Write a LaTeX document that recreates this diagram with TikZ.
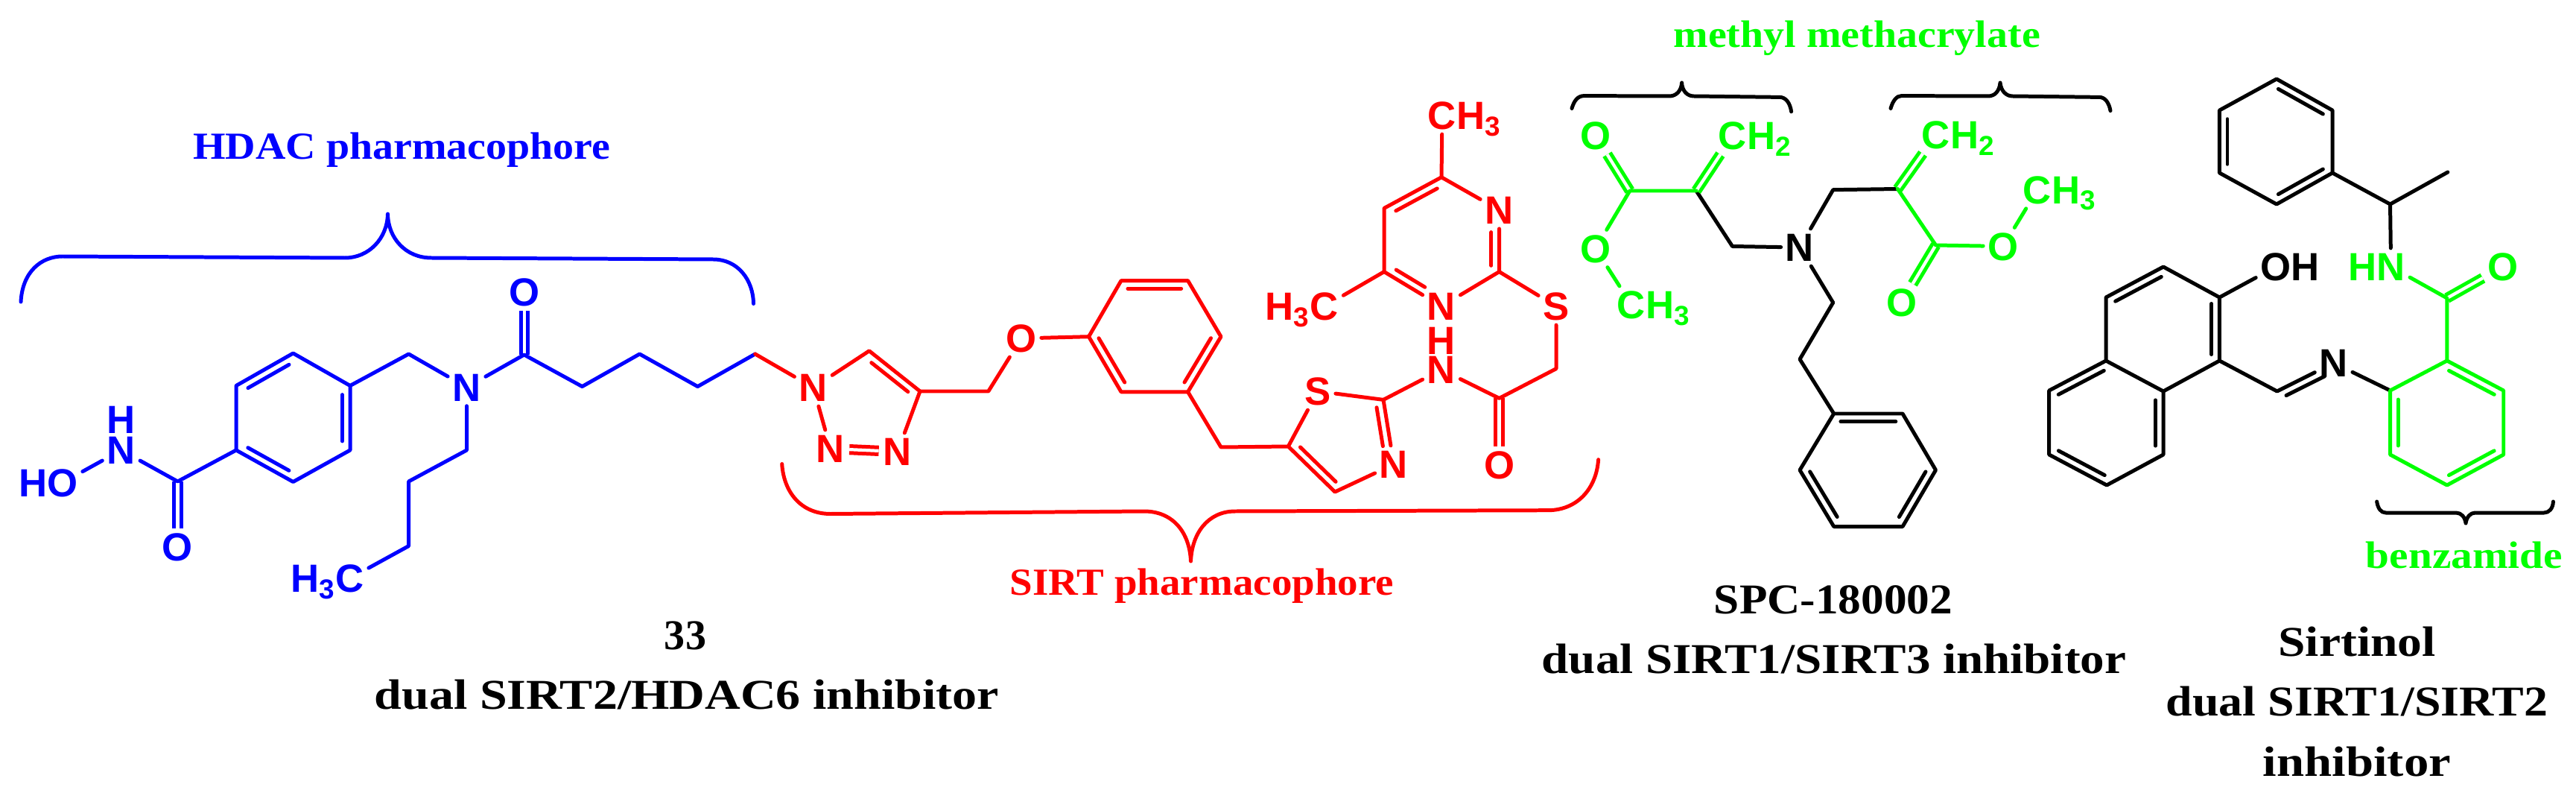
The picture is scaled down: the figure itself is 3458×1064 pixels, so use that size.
\documentclass[tikz,border=0pt]{standalone}
\usepackage{fontspec}
\setmainfont{Liberation Serif}
\newfontfamily\atomfont{Liberation Sans}
\usetikzlibrary{calc}

% second line of a double bond, on the left of the first node -> second node
\newcommand{\ringbond}[4]{\draw[bond] ($(#1)!#3!(#2)!3pt!90:(#2)$) -- ($(#2)!#4!(#1)!3pt!-90:(#1)$);}
% text forced to a width given in cm
\newcommand{\fitw}[2]{\resizebox{#1cm}{\height}{#2}}

\begin{document}
\begin{tikzpicture}[x=0.01cm, y=-0.01cm]
    % --- Style Definitions ---
    \tikzset{
        % Skeleton lines
        bond/.style={line width=1.42pt, line join=round, line cap=round},
        double bond/.style={bond, line cap=butt, double, double distance=1.2pt},
        brace line/.style={line width=1.42pt, line join=round, line cap=round},
        % Atom letters
        atom/.style={
            font=\atomfont\bfseries\fontsize{15}{17}\selectfont,
            text height=10.7pt,
            text depth=0pt,
            inner sep=1.6pt
        },
        % Text styling
        part text/.style={font=\bfseries\fontsize{14.6}{16}\selectfont, inner sep=0pt},
        name text/.style={font=\bfseries\fontsize{16.2}{18}\selectfont, inner sep=0pt}
    }
    \useasboundingbox (0,0) rectangle (3458,1064);

    % ==========================================
    % COMPOUND 33: HDAC part (blue)
    % ==========================================
    \begin{scope}[color=blue]
        % Label and brace
        \node[part text] (lbl_hdac) at (539.5,201.5) {\fitw{5.6}{HDAC pharmacophore}};
        \draw[brace line] (28,405) .. controls (30,365) and (55,344) .. (84,344) -- (463,346)
            .. controls (495,346) and (520,320) .. (520.5,287)
            .. controls (521,320) and (545,346) .. (579,346) -- (957.5,348)
            .. controls (990,348) and (1011,375) .. (1011.5,407.5);

        % 1. Benzene ring
        \coordinate (ring_a1) at (393.5,474);
        \coordinate (ring_a2) at (470,517.5);
        \coordinate (ring_a3) at (470,604);
        \coordinate (ring_a4) at (393.5,646.5);
        \coordinate (ring_a5) at (317,604);
        \coordinate (ring_a6) at (317,517.5);
        \draw[bond] (ring_a1) -- (ring_a2) -- (ring_a3) -- (ring_a4) -- (ring_a5) -- (ring_a6) -- cycle;
        \ringbond{ring_a1}{ring_a6}{.14}{.14}
        \ringbond{ring_a5}{ring_a4}{.14}{.14}
        \ringbond{ring_a3}{ring_a2}{.14}{.14}

        % 2. Hydroxamic acid
        \coordinate (hyd_c) at (238.5,646);
        \node[atom] (hyd_o) at (238.5,734) {O};
        \node[atom] (hyd_n) at (162.7,604) {\rlap{\raisebox{11.67pt}{H}}N};
        \node[atom] (hyd_oh) at (84,647.5) {\llap{H}O};
        \draw[double bond] (hyd_c) -- (hyd_o);
        \draw[bond] (ring_a5) -- (hyd_c) -- (hyd_n) -- (hyd_oh);

        % 3. Amide nitrogen and butyl
        \coordinate (benzyl) at (548.6,475);
        \node[atom] (amide_n) at (626.5,519.6) {N};
        \coordinate (butyl_1) at (626.5,604);
        \coordinate (butyl_2) at (548.6,646);
        \coordinate (butyl_3) at (548.6,732.6);
        \node[atom] (butyl_4) at (469.5,776) {\llap{H\textsubscript{3}}C};
        \draw[bond] (ring_a2) -- (benzyl) -- (amide_n) -- (butyl_1) -- (butyl_2) -- (butyl_3) -- (butyl_4);

        % 4. Carbonyl and chain
        \coordinate (acyl_c) at (703.6,476);
        \node[atom] (acyl_o) at (703.6,392) {O};
        \coordinate (chain_1) at (781.5,518.6);
        \coordinate (chain_2) at (858.6,475);
        \coordinate (chain_3) at (936.5,518.6);
        \coordinate (chain_4) at (1013.7,475);
        \draw[double bond] (acyl_c) -- (acyl_o);
        \draw[bond] (amide_n) -- (acyl_c) -- (chain_1) -- (chain_2) -- (chain_3) -- (chain_4);
    \end{scope}

    % ==========================================
    % COMPOUND 33: SIRT part (red)
    % ==========================================
    \begin{scope}[color=red]
        % Label and brace
        \node[part text] (lbl_sirt) at (1613.5,786.6) {\fitw{5.15}{SIRT pharmacophore}};
        \draw[brace line] (1049.7,622.5) .. controls (1052,660) and (1075,689.5) .. (1114.8,689.5) -- (1535.7,686)
            .. controls (1575,686) and (1597,715) .. (1598.5,753)
            .. controls (1600,715) and (1622,686) .. (1658,686) -- (2079,684.7)
            .. controls (2118,684) and (2143,655) .. (2145.6,616.7);

        % 1. Triazole
        \node[atom] (tri_n1) at (1091.8,520) {N};
        \coordinate (tri_c5) at (1166.8,470.8);
        \coordinate (tri_c4) at (1235,525);
        \node[atom] (tri_n3) at (1205,606) {N};
        \node[atom] (tri_n2) at (1114.8,602) {N};
        \draw[double bond] (tri_n2) -- (tri_n3);
        \draw[bond] (chain_4) -- (tri_n1) -- (tri_c5) -- (tri_c4) -- (tri_n3);
        \draw[bond] (tri_n1) -- (tri_n2);
        \ringbond{tri_c4}{tri_c5}{.14}{.14}

        % 2. Ether link and benzene ring
        \coordinate (ether_c) at (1326.8,525);
        \node[atom] (ether_o) at (1371,454) {O};
        \coordinate (ring_b1) at (1461.5,451.7);
        \coordinate (ring_b2) at (1505,376.6);
        \coordinate (ring_b3) at (1594.6,376.6);
        \coordinate (ring_b4) at (1639,451.7);
        \coordinate (ring_b5) at (1594.6,525.8);
        \coordinate (ring_b6) at (1505,525.8);
        \draw[bond] (tri_c4) -- (ether_c) -- (ether_o) -- (ring_b1);
        \draw[bond] (ring_b1) -- (ring_b2) -- (ring_b3) -- (ring_b4) -- (ring_b5) -- (ring_b6) -- cycle;
        \ringbond{ring_b3}{ring_b2}{.1}{.1}
        \ringbond{ring_b5}{ring_b4}{.1}{.1}
        \ringbond{ring_b1}{ring_b6}{.1}{.1}

        % 3. Thiazole
        \coordinate (bridge) at (1639,600);
        \coordinate (thz_c5) at (1729.3,599);
        \node[atom] (thz_s) at (1769,525) {S};
        \coordinate (thz_c2) at (1857,536.4);
        \node[atom] (thz_n) at (1871,623) {N};
        \coordinate (thz_c4) at (1792,660);
        \draw[bond] (ring_b5) -- (bridge) -- (thz_c5) -- (thz_s) -- (thz_c2) -- (thz_n) -- (thz_c4) -- (thz_c5);
        \ringbond{thz_c5}{thz_c4}{.14}{.1}
        \ringbond{thz_n}{thz_c2}{.3}{.1}

        % 4. Thioacetamide
        \node[atom] (link_n) at (1935,496) {\rlap{\raisebox{11.24pt}{H}}N};
        \coordinate (link_c) at (2012.5,534.4);
        \node[atom] (link_o) at (2012.5,624) {O};
        \coordinate (link_ch2) at (2089,494.7);
        \node[atom] (link_s) at (2089,411) {S};
        \draw[double bond] (link_c) -- (link_o);
        \draw[bond] (thz_c2) -- (link_n) -- (link_c) -- (link_ch2) -- (link_s);

        % 5. Pyrimidine
        \coordinate (pyr_c2) at (2012.5,364.6);
        \node[atom] (pyr_n1) at (2012.5,281.8) {N};
        \coordinate (pyr_c4) at (1935,237.8);
        \coordinate (pyr_c5) at (1858,279.4);
        \coordinate (pyr_c6) at (1858,364.6);
        \node[atom] (pyr_n3) at (1935,411) {N};
        \node[atom] (pyr_me1) at (1936,155) {C\rlap{H\textsubscript{3}}};
        \node[atom] (pyr_me2) at (1778,411) {\llap{H\textsubscript{3}}C};
        \draw[bond] (link_s) -- (pyr_c2) -- (pyr_n1) -- (pyr_c4) -- (pyr_c5) -- (pyr_c6) -- (pyr_n3) -- (pyr_c2);
        \draw[bond] (pyr_c4) -- (pyr_me1);
        \draw[bond] (pyr_c6) -- (pyr_me2);
        \ringbond{pyr_c4}{pyr_c5}{.14}{.14}
        \ringbond{pyr_c6}{pyr_n3}{.14}{.36}
        \ringbond{pyr_c2}{pyr_n1}{.1}{.36}
    \end{scope}

    % Names
    \node[name text] (name_33) at (920,853) {\fitw{.56}{33}};
    \node[name text] (name_33_b) at (922,932) {\fitw{8.38}{dual SIRT2/HDAC6 inhibitor}};

    % ==========================================
    % SPC-180002
    % ==========================================
    \node[part text, green] (lbl_mma) at (2492.6,51.5) {\fitw{4.92}{methyl methacrylate}};

    % Braces
    \draw[brace line] (2110,145.5) .. controls (2113,135) and (2118,128.6) .. (2126.5,128.6) -- (2241,129)
        .. controls (2250,129) and (2257,122) .. (2257.6,111)
        .. controls (2258,122) and (2265,129) .. (2273.5,129) -- (2389,130.4)
        .. controls (2397,130.4) and (2403,138) .. (2404.6,149.8);
    \draw[brace line] (2538,145.5) .. controls (2541,135) and (2546,128.6) .. (2552.5,128.6) -- (2669,129)
        .. controls (2678,129) and (2684,122) .. (2685,111)
        .. controls (2686,122) and (2693,129) .. (2701.5,129) -- (2818,130.4)
        .. controls (2826,130.4) and (2831,138) .. (2833,148.6);

    % 1. Black part
    \coordinate (left_c) at (2277,256);
    \coordinate (left_ch2) at (2325.5,330.5);
    \node[atom] (spc_n) at (2416,332) {N};
    \coordinate (right_ch2) at (2460.7,254.7);
    \coordinate (right_c) at (2547.4,253.5);
    \coordinate (ethyl_1) at (2460.7,406);
    \coordinate (ethyl_2) at (2416,482);
    \coordinate (ring_s1) at (2461.7,555);
    \coordinate (ring_s2) at (2554,555);
    \coordinate (ring_s3) at (2598.5,630.7);
    \coordinate (ring_s4) at (2554,706.5);
    \coordinate (ring_s5) at (2461.7,706.5);
    \coordinate (ring_s6) at (2416,630.7);
    \draw[bond] (left_c) -- (left_ch2) -- (spc_n) -- (right_ch2) -- (right_c);
    \draw[bond] (spc_n) -- (ethyl_1) -- (ethyl_2) -- (ring_s1);
    \draw[bond] (ring_s1) -- (ring_s2) -- (ring_s3) -- (ring_s4) -- (ring_s5) -- (ring_s6) -- cycle;
    \ringbond{ring_s2}{ring_s1}{.1}{.1}
    \ringbond{ring_s4}{ring_s3}{.1}{.1}
    \ringbond{ring_s6}{ring_s5}{.1}{.1}

    % 2. Green parts
    \begin{scope}[color=green]
        \coordinate (left_ester) at (2187.8,256);
        \node[atom] (left_o1) at (2141.8,182) {O};
        \node[atom] (left_o2) at (2141.8,333.5) {O};
        \node[atom] (left_me) at (2190,409) {C\rlap{H\textsubscript{3}}};
        \node[atom] (left_vinyl) at (2326,182) {C\rlap{H\textsubscript{2}}};
        \draw[double bond] (left_ester) -- (left_o1);
        \draw[double bond] (left_c) -- (left_vinyl);
        \draw[bond] (left_c) -- (left_ester) -- (left_o2) -- (left_me);

        \coordinate (right_ester) at (2598.5,329);
        \node[atom] (right_o1) at (2552.5,406) {O};
        \node[atom] (right_o2) at (2689,330.5) {O};
        \node[atom] (right_me) at (2735,254.7) {C\rlap{H\textsubscript{3}}};
        \node[atom] (right_vinyl) at (2599,181) {C\rlap{H\textsubscript{2}}};
        \draw[double bond] (right_ester) -- (right_o1);
        \draw[double bond] (right_c) -- (right_vinyl);
        \draw[bond] (right_c) -- (right_ester) -- (right_o2) -- (right_me);
    \end{scope}

    % Names
    \node[name text] (name_spc) at (2461,805) {\fitw{3.2}{SPC-180002}};
    \node[name text] (name_spc_b) at (2462,884) {\fitw{7.84}{dual SIRT1/SIRT3 inhibitor}};

    % ==========================================
    % SIRTINOL
    % ==========================================

    % 1. Phenylethyl
    \coordinate (ring_t1) at (3056,106);
    \coordinate (ring_t2) at (3131,148);
    \coordinate (ring_t3) at (3131,232);
    \coordinate (ring_t4) at (3056,274);
    \coordinate (ring_t5) at (2979.4,232);
    \coordinate (ring_t6) at (2979.4,148);
    \coordinate (methine) at (3208.5,274);
    \coordinate (methyl) at (3285.8,231);
    \draw[bond] (ring_t1) -- (ring_t2) -- (ring_t3) -- (ring_t4) -- (ring_t5) -- (ring_t6) -- cycle;
    \draw[bond] (ring_t3) -- (methine) -- (methyl);
    \ringbond{ring_t2}{ring_t1}{.1}{.1}
    \ringbond{ring_t4}{ring_t3}{.1}{.1}
    \ringbond{ring_t6}{ring_t5}{.14}{.14}

    % 2. Naphthol
    \coordinate (naph_1) at (2979.4,484);
    \coordinate (naph_2) at (2979.4,399);
    \coordinate (naph_3) at (2904,358);
    \coordinate (naph_4) at (2827,399);
    \coordinate (naph_4a) at (2827,484);
    \coordinate (naph_8a) at (2904,525);
    \coordinate (naph_8) at (2904,610);
    \coordinate (naph_7) at (2828,651);
    \coordinate (naph_6) at (2750.7,610);
    \coordinate (naph_5) at (2750.7,524);
    \node[atom] (naph_oh) at (3055,358) {O\rlap{H}};
    \draw[bond] (naph_1) -- (naph_2) -- (naph_3) -- (naph_4) -- (naph_4a) -- (naph_8a) -- cycle;
    \draw[bond] (naph_4a) -- (naph_5) -- (naph_6) -- (naph_7) -- (naph_8) -- (naph_8a);
    \draw[bond] (naph_2) -- (naph_oh);
    \ringbond{naph_1}{naph_2}{.1}{.1}
    \ringbond{naph_3}{naph_4}{.1}{.1}
    \ringbond{naph_4a}{naph_5}{.1}{.1}
    \ringbond{naph_6}{naph_7}{.1}{.1}
    \ringbond{naph_8}{naph_8a}{.14}{.14}

    % 3. Imine
    \coordinate (imine_c) at (3056.7,525);
    \node[atom] (imine_n) at (3132.6,487) {N};
    \coordinate (ring_g1) at (3208.5,524);
    \draw[bond] (naph_1) -- (imine_c) -- (imine_n) -- (ring_g1);
    \ringbond{imine_n}{imine_c}{.22}{.1}

    % 4. Benzamide (green)
    \begin{scope}[color=green]
        \coordinate (ring_g2) at (3284.8,484);
        \coordinate (ring_g3) at (3360.7,524);
        \coordinate (ring_g4) at (3360.7,610);
        \coordinate (ring_g5) at (3284.8,651);
        \coordinate (ring_g6) at (3208.5,610);
        \coordinate (benz_c) at (3284.8,400);
        \node[atom] (benz_o) at (3359.7,358) {O};
        \node[atom] (benz_n) at (3209.6,358) {\llap{H}N};
        \draw[double bond] (benz_c) -- (benz_o);
        \draw[bond] (ring_g1) -- (ring_g2) -- (ring_g3) -- (ring_g4) -- (ring_g5) -- (ring_g6) -- cycle;
        \draw[bond] (ring_g2) -- (benz_c) -- (benz_n);
        \ringbond{ring_g3}{ring_g2}{.1}{.1}
        \ringbond{ring_g5}{ring_g4}{.1}{.1}
        \ringbond{ring_g1}{ring_g6}{.14}{.14}
    \end{scope}
    \draw[bond] (methine) -- (benz_n);

    % 5. Annotation
    \draw[brace line] (3190.6,673) .. controls (3192,682) and (3196,688) .. (3202.7,688) -- (3297,688)
        .. controls (3304,688) and (3309,694) .. (3310,702)
        .. controls (3311,694) and (3316,688) .. (3322.5,688) -- (3415,688)
        .. controls (3422,688) and (3427,682) .. (3427.4,673);
    \node[part text, green] (lbl_benz) at (3308,745.4) {\fitw{2.64}{benzamide}};

    % Names
    \node[name text] (name_sir) at (3164,861) {\fitw{2.11}{Sirtinol}};
    \node[name text] (name_sir_b) at (3164,941) {\fitw{5.12}{dual SIRT1/SIRT2}};
    \node[name text] (name_sir_c) at (3164,1022) {\fitw{2.52}{inhibitor}};

\end{tikzpicture}
\end{document}
